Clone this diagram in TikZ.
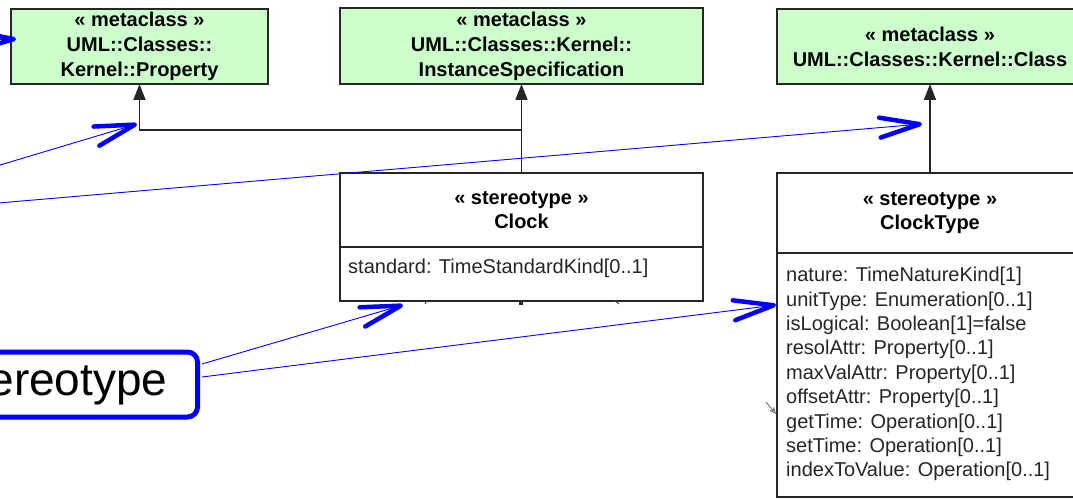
\documentclass[tikz,border=0pt]{standalone}
\usepackage{fontspec}
\setmainfont{Liberation Sans}
\usetikzlibrary{arrows.meta,calc}
\definecolor{metagreen}{RGB}{204,255,204}
\definecolor{callblue}{RGB}{0,0,255}
\begin{document}
\begin{tikzpicture}[x=1pt,y=-1pt,
  box/.style={draw=black!85, line width=1.8pt, inner sep=0pt, outer sep=0pt, align=center},
  meta/.style={box, fill=metagreen, font=\bfseries\fontsize{20}{25}\selectfont},
  head/.style={box, fill=white, font=\bfseries\fontsize{20}{24}\selectfont},
  attrs/.style={box, fill=white},
  attrtext/.style={font=\fontsize{20}{24.4}\selectfont, align=left, inner sep=0pt, text=black!85},
  gen/.style={draw=black!85, line width=1.8pt, -{Triangle[length=16pt,width=12pt]}},
  callout/.style={draw=callblue, line width=0.9pt, -{Straight Barb[length=40pt,width=20pt,line width=4.5pt,round]}},
  stereo/.style={draw=callblue, line width=5pt, rounded corners=10pt, minimum height=65pt, inner xsep=30pt, font=\fontsize{46}{50}\selectfont},
]
\useasboundingbox (0,0) rectangle (1073,500);
\clip (0,0) rectangle (1073,500);

% metaclasses
\node[meta, minimum width=257pt, minimum height=75pt] (prop) at (139.5,46.5) {« metaclass »\\UML::Classes::\\Kernel::Property};
\node[meta, minimum width=363pt, minimum height=76pt] (inst) at (521.5,46) {« metaclass »\\UML::Classes::Kernel::\\InstanceSpecification};
\node[meta, minimum width=306pt, minimum height=75pt] (cls) at (930,46.5) {« metaclass »\\UML::Classes::Kernel::Class};

% stereotypes
\node[head, minimum width=363pt, minimum height=74pt] (clock) at (521.5,210) {« stereotype »\\Clock};
\node[attrs, minimum width=363pt, minimum height=54pt, anchor=north] (clockattr) at (clock.south) {};
\node[attrtext, anchor=west] (std) at (348,268) {standard: TimeStandardKind[0..1]};

\node[head, minimum width=306pt, minimum height=80pt] (ct) at (930,213) {« stereotype »\\ClockType};
\node[attrs, minimum width=306pt, minimum height=244pt, anchor=north] (ctattr) at (ct.south) {};
\node[attrtext, anchor=north west] (ctlist) at (786,267) {nature: TimeNatureKind[1]\\unitType: Enumeration[0..1]\\isLogical: Boolean[1]=false\\resolAttr: Property[0..1]\\maxValAttr: Property[0..1]\\offsetAttr: Property[0..1]\\getTime: Operation[0..1]\\setTime: Operation[0..1]\\indexToValue: Operation[0..1]};

% extensions
\coordinate (jn) at (521.5,130);
\draw[gen] (clock.north) -- (inst.south);
\draw[gen] (jn) -| (prop.south);
\draw[gen] (ct.north) -- (cls.south);

% small marks under Clock
\fill[black!85] (519,301) rectangle (523,305);
\draw[black!70, line width=1pt] (427,301) -- (425,304);
\draw[black!70, line width=1pt] (615,301) -- (619,304);
\draw[black!60, line width=0.8pt, -{Stealth[length=7pt,width=6pt,open]}] (766,402) -- (776,414);

% callouts
\node[stereo, anchor=east] (st) at (200,384.5) {Stereotype};
\coordinate (s1) at (-120,45);
\coordinate (t1) at (16,39);
\coordinate (s2) at (-60,183);
\coordinate (t2) at (137,124);
\coordinate (s3) at (-60,208);
\coordinate (t3) at (922,124);
\coordinate (t4) at (403,305);
\coordinate (t5) at (776,305);
\draw[callout] (s1) -- (t1);
\draw[callout] (s2) -- (t2);
\draw[callout] (s3) -- (t3);
\draw[callout] ($(st.east)+(2,-20.5)$) -- (t4);
\draw[callout] ($(st.east)+(2,-7.5)$) -- (t5);
\end{tikzpicture}
\end{document}
